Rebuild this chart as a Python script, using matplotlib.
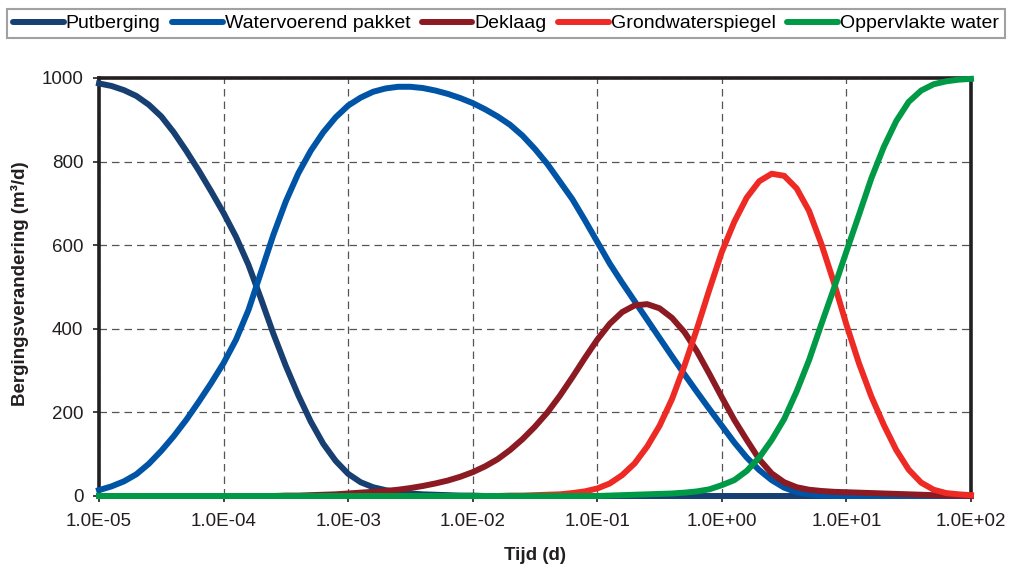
import numpy as np
import matplotlib.pyplot as plt
from matplotlib.ticker import FixedLocator, NullLocator

plt.rcParams['font.family'] = ['Liberation Sans', 'DejaVu Sans']

# tijdstappen (d), 10 per decade
tijd = np.logspace(-5, 2, 71)

# bergingsverandering (m3/d) per component
putberging = [987, 981, 971, 957, 936, 908, 870, 826, 779, 729,
              677, 620, 553, 472, 388, 311, 241, 178, 125, 84,
              53, 33, 21, 14, 9, 6, 4, 3, 2, 1,
              1, 0, 0, 0, 0, 0, 0, 0, 0, 0,
              0, 0, 0, 0, 0, 0, 0, 0, 0, 0,
              0, 0, 0, 0, 0, 0, 0, 0, 0, 0,
              0, 0, 0, 0, 0, 0, 0, 0, 0, 0,
              0]
watervoerend = [14, 23, 35, 52, 77, 108, 143, 182, 225, 270,
                318, 374, 445, 535, 625, 705, 772, 826, 870, 906,
                934, 953, 967, 975, 979, 979, 976, 970, 962, 952,
                940, 925, 908, 888, 862, 830, 794, 752, 710, 660,
                608, 556, 510, 466, 422, 378, 334, 291, 249, 208,
                168, 128, 92, 62, 38, 20, 9, 4, 1, 0,
                0, 0, 0, 0, 0, 0, 0, 0, 0, 0,
                0]
deklaag = [0, 0, 0, 0, 0, 0, 0, 0, 0, 0,
           0, 0, 0, 0, 0, 1, 1, 2, 3, 4,
           6, 8, 10, 12, 15, 19, 24, 30, 37, 46,
           57, 71, 88, 110, 136, 166, 200, 240, 284, 330,
           374, 412, 440, 456, 459, 449, 426, 392, 346, 292,
           236, 182, 134, 88, 54, 33, 21, 15, 12, 10,
           9, 8, 7, 6, 5, 4, 3, 2, 1, 1,
           0]
grondwater = [0, 0, 0, 0, 0, 0, 0, 0, 0, 0,
              0, 0, 0, 0, 0, 0, 0, 0, 0, 0,
              0, 0, 0, 0, 0, 0, 0, 0, 0, 0,
              0, 0, 0, 1, 1, 2, 3, 4, 7, 11,
              18, 30, 50, 78, 118, 168, 232, 312, 400, 494,
              584, 656, 714, 753, 771, 766, 736, 682, 602, 510,
              410, 318, 238, 170, 110, 63, 32, 15, 7, 4,
              2]
oppervlakte = [0, 0, 0, 0, 0, 0, 0, 0, 0, 0,
               0, 0, 0, 0, 0, 0, 0, 0, 0, 0,
               0, 0, 0, 0, 0, 0, 0, 0, 0, 0,
               0, 0, 0, 0, 0, 0, 0, 0, 0, 0,
               0, 1, 2, 3, 4, 5, 6, 8, 11, 16,
               26, 38, 60, 92, 134, 184, 250, 325, 412, 497,
               585, 672, 760, 835, 897, 943, 970, 985, 992, 996,
               998]

namen = ['Putberging', 'Watervoerend pakket', 'Deklaag',
         'Grondwaterspiegel', 'Oppervlakte water']
kleuren = ['#173f71', '#0054a6', '#8b1a22', '#ee2a25', '#009a46']
reeksen = [putberging, watervoerend, deklaag, grondwater, oppervlakte]

x_ticks = [1e-5, 1e-4, 1e-3, 1e-2, 1e-1, 1e0, 1e1, 1e2]
x_labels = ['1.0E-05', '1.0E-04', '1.0E-03', '1.0E-02',
            '1.0E-01', '1.0E+00', '1.0E+01', '1.0E+02']
y_ticks = [0, 200, 400, 600, 800, 1000]

fig = plt.figure(figsize=(10.11, 5.65), dpi=100)
ax = fig.add_axes([99 / 1011, 1 - 496 / 565, 872 / 1011, 418 / 565])

for waarden, naam, kleur in zip(reeksen, namen, kleuren):
    ax.plot(tijd, waarden, color=kleur, lw=4.3, label=naam,
            clip_on=False, zorder=3, solid_joinstyle='round')

ax.set_xscale('log')
ax.set_xlim(1e-5, 1e2)
ax.set_ylim(0, 1000)
ax.xaxis.set_major_locator(FixedLocator(x_ticks))
ax.xaxis.set_minor_locator(NullLocator())
ax.set_xticklabels(x_labels)
ax.set_yticks(y_ticks)

ax.grid(True, color='#555555', lw=0.9, linestyle=(0, (6, 4)))
ax.set_axisbelow(True)
for s in ax.spines.values():
    s.set_linewidth(2.6)
    s.set_color('#231f20')
ax.tick_params(direction='out', length=4.3, width=1.2, colors='#231f20',
               labelsize=13.5)
ax.tick_params(axis='x', pad=8)
ax.tick_params(axis='y', pad=7)

fig.text(20 / 1011, 1 - 284 / 565, 'Bergingsverandering (m³/d)', rotation=90,
         ha='center', va='center', fontsize=13.5, fontweight='bold',
         color='#231f20')
fig.text(535 / 1011, 5.5 / 565, 'Tijd (d)', ha='center', va='baseline',
         fontsize=13.5, fontweight='bold', color='#231f20')

leg = fig.legend(loc='upper center', bbox_to_anchor=(506 / 1011, 1 - 9 / 565),
                 ncol=5, fontsize=14, frameon=True, fancybox=False,
                 edgecolor='#8a8a8a', handlelength=2.6, handletextpad=0.1,
                 columnspacing=0.6, borderpad=0.3, borderaxespad=0)
leg.get_frame().set_linewidth(1.5)
for h in leg.legend_handles:
    h.set_solid_capstyle('round')

fig.savefig('out.png', dpi=100)
